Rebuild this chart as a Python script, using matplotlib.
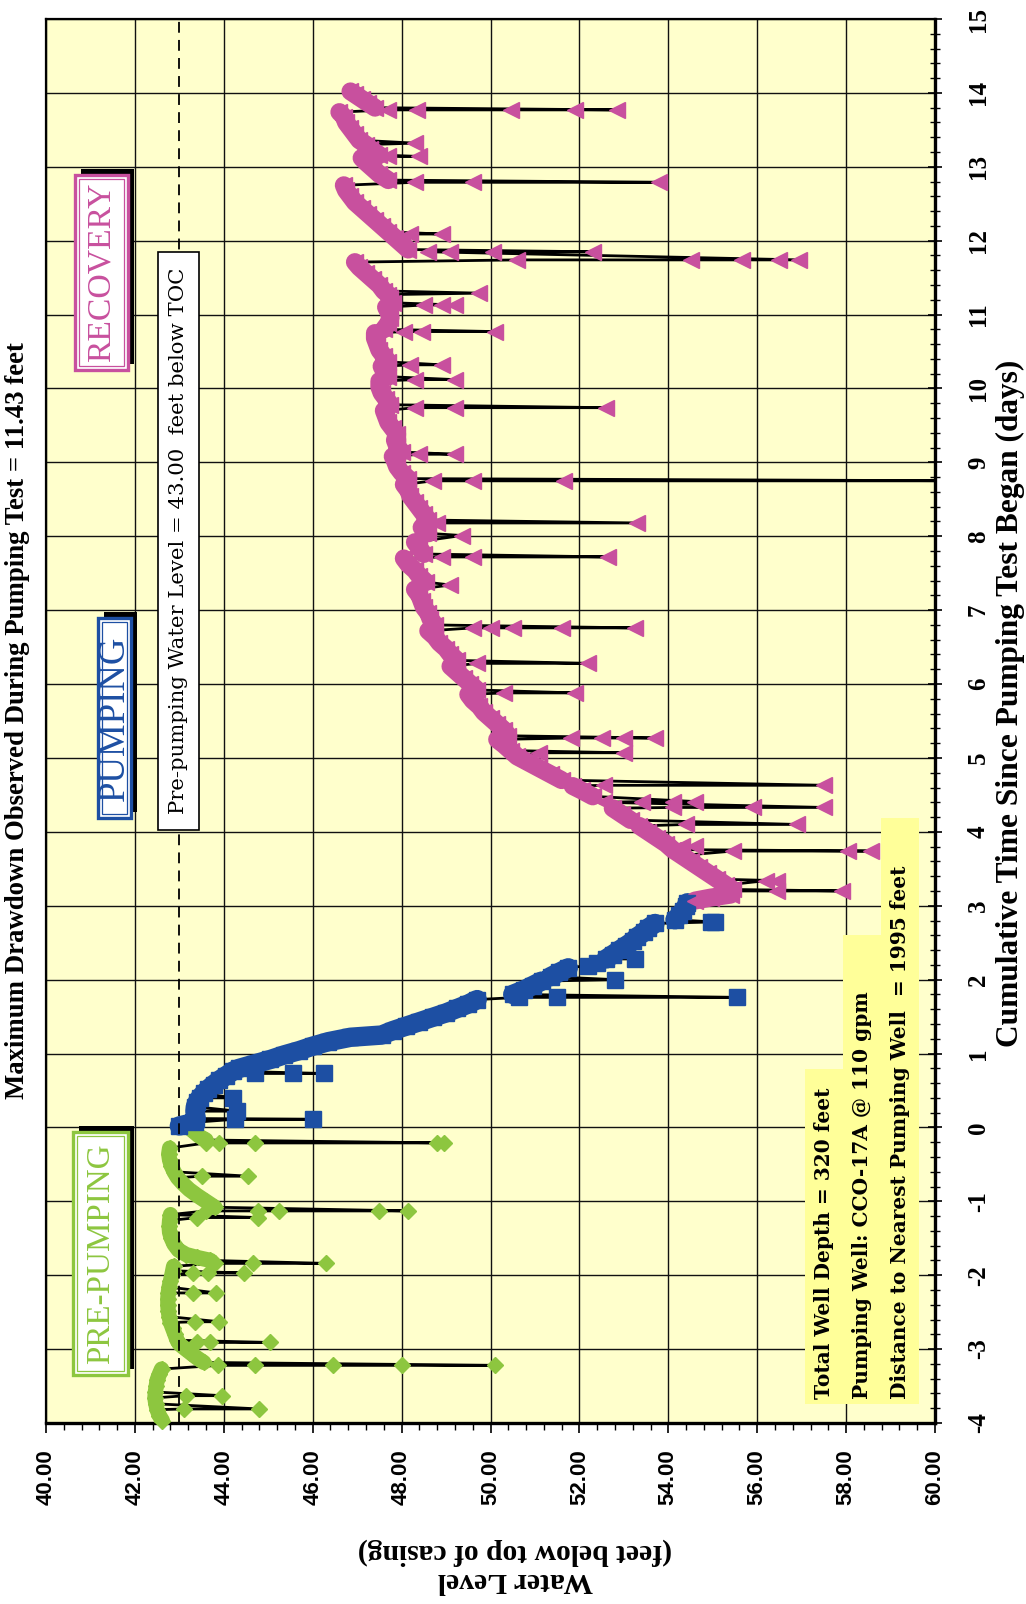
import numpy as np
import matplotlib
matplotlib.use('Agg')
import matplotlib.pyplot as plt
from matplotlib.patches import Rectangle
from matplotlib.ticker import MultipleLocator, FormatStrFormatter

plt.rcParams['axes.unicode_minus'] = False

PRE_LEVEL = 43.00      # pre-pumping water level, ft below TOC
MAX_DRAWDOWN = 11.43   # ft

# pre-pumping record: time (days), water level (ft below TOC)
pre_t = [-3.97, -3.90, -3.82, -3.74, -3.66, -3.58, -3.50, -3.42, -3.34, -3.27,
         -3.18, -3.12, -3.05, -2.98, -2.93,
         -2.88, -2.80, -2.72, -2.64, -2.56, -2.48, -2.40, -2.32, -2.24, -2.16,
         -2.08, -2.00, -1.94, -1.88,
         -1.80, -1.76, -1.72, -1.66, -1.58, -1.50, -1.42, -1.34, -1.26, -1.18,
         -1.08, -1.00, -0.92, -0.84, -0.76, -0.68, -0.60, -0.52, -0.44, -0.36,
         -0.28, -0.17, -0.12, -0.07, -0.02]
pre_lvl = [42.62, 42.55, 42.50, 42.47, 42.45, 42.46, 42.48, 42.50, 42.55, 42.60,
           43.55, 43.40, 43.25, 43.10, 43.00,
           42.95, 42.90, 42.85, 42.80, 42.77, 42.75, 42.74, 42.74, 42.75, 42.77,
           42.80, 42.83, 42.85, 42.87,
           43.70, 43.40, 43.15, 42.98, 42.88, 42.82, 42.78, 42.77, 42.78, 42.80,
           43.80, 43.60, 43.40, 43.22, 43.08, 42.96, 42.88, 42.82, 42.78, 42.76,
           42.78, 43.60, 43.45, 43.35, 43.25]
# short excursions (transducer spikes)
pre_spk_t = [-3.81, -3.63, -3.22, -2.91, -2.63, -2.24, -1.97, -1.84, -1.22, -1.13, -0.66, -0.21]
pre_spk_lvl = [[43.10, 44.80], [43.15, 43.95], [43.87, 44.70, 46.45, 48.00, 50.10],
               [43.40, 43.70, 45.05], [43.35, 43.90], [43.30, 43.83],
               [43.30, 43.65, 44.45], [43.80, 44.65, 46.30], [43.40, 44.78],
               [43.60, 44.78, 45.25, 47.50, 48.15], [43.50, 44.55],
               [43.60, 43.90, 44.70, 48.80, 48.95]]

# pumping record
pump_t = [0.02, 0.07, 0.12, 0.17, 0.22, 0.28, 0.34, 0.40, 0.46, 0.52, 0.58, 0.64, 0.70, 0.76, 0.80,
          0.86, 0.92, 0.98, 1.04, 1.10, 1.16, 1.22,
          1.25, 1.31, 1.37, 1.43, 1.49, 1.55, 1.61, 1.67, 1.73,
          1.80, 1.86, 1.92, 1.98, 2.04, 2.10, 2.16,
          2.22, 2.28, 2.34, 2.40, 2.46, 2.52, 2.58, 2.64, 2.70, 2.76,
          2.81, 2.87, 2.93, 2.99, 3.04]
pump_lvl = [43.00, 43.35, 43.38, 43.36, 43.35, 43.36, 43.40, 43.46, 43.55, 43.65, 43.77, 43.90, 44.05, 44.20, 44.35,
            44.70, 45.05, 45.35, 45.70, 46.00, 46.35, 46.85,
            47.55, 47.80, 48.10, 48.40, 48.70, 49.00, 49.25, 49.50, 49.70,
            50.50, 50.75, 50.95, 51.15, 51.35, 51.55, 51.75,
            52.40, 52.60, 52.75, 52.90, 53.05, 53.20, 53.30, 53.45, 53.55, 53.70,
            54.15, 54.25, 54.33, 54.40, 54.43]
pump_spk_t = [0.11, 0.22, 0.40, 0.73, 1.76, 2.00, 2.19, 2.28, 2.78]
pump_spk_lvl = [[44.25, 46.00], [44.30], [44.20], [44.70, 45.55, 46.26],
                [50.64, 51.50, 55.55], [52.80], [52.20], [53.25], [54.95, 55.05]]

# recovery record
rec_t = [3.07, 3.11, 3.15, 3.22, 3.28, 3.36, 3.44, 3.52, 3.60, 3.68,
         3.76, 3.84, 3.92, 4.00, 4.08, 4.16, 4.24, 4.32, 4.40, 4.48,
         4.56, 4.62, 4.70, 4.78, 4.86, 4.94, 5.02, 5.10, 5.18, 5.25,
         5.30, 5.38, 5.46, 5.54, 5.62, 5.70, 5.78, 5.86, 5.92, 6.00,
         6.08, 6.16, 6.24, 6.32, 6.40, 6.48, 6.56, 6.64, 6.72, 6.80,
         6.88, 6.96, 7.04, 7.12, 7.20, 7.28, 7.38, 7.46, 7.54, 7.62,
         7.70, 7.76, 7.84, 7.92, 8.04, 8.12, 8.22, 8.30, 8.38, 8.46,
         8.54, 8.62, 8.70, 8.78, 8.86, 8.94, 9.02, 9.08, 9.14, 9.22,
         9.30, 9.38, 9.46, 9.54, 9.62, 9.70, 9.78, 9.86, 9.94, 10.02,
         10.10, 10.16, 10.24, 10.30, 10.36, 10.44, 10.52, 10.60, 10.68, 10.75,
         10.80, 10.88, 10.96, 11.04, 11.10, 11.16, 11.22, 11.27, 11.32, 11.40,
         11.48, 11.56, 11.64, 11.71, 11.88, 11.96, 12.04, 12.12, 12.20, 12.28,
         12.36, 12.44, 12.52, 12.60, 12.68, 12.75, 12.82, 12.90, 12.98, 13.06,
         13.12, 13.16, 13.24, 13.30, 13.36, 13.44, 13.52, 13.60, 13.68, 13.74,
         13.80, 13.86, 13.92, 13.98, 14.02]
rec_lvl = [54.60, 54.95, 55.40, 55.45, 55.30, 55.10, 54.90, 54.70, 54.50, 54.30,
           54.10, 53.95, 53.75, 53.55, 53.35, 53.15, 52.95, 52.75, 52.55, 52.30,
           52.05, 51.85, 51.60, 51.35, 51.10, 50.85, 50.60, 50.45, 50.30, 50.15,
           50.40, 50.30, 50.15, 50.00, 49.85, 49.75, 49.60, 49.50, 49.70, 49.55,
           49.40, 49.25, 49.10, 49.25, 49.10, 49.00, 48.85, 48.75, 48.60, 48.75,
           48.65, 48.60, 48.50, 48.45, 48.40, 48.30, 48.55, 48.40, 48.30, 48.15,
           48.05, 48.50, 48.40, 48.30, 48.60, 48.45, 48.60, 48.50, 48.40, 48.30,
           48.20, 48.15, 48.05, 48.15, 48.00, 47.90, 47.85, 47.80, 48.00, 47.90,
           47.85, 47.90, 47.80, 47.70, 47.65, 47.60, 47.75, 47.65, 47.55, 47.50,
           47.50, 47.70, 47.60, 47.55, 47.70, 47.60, 47.50, 47.45, 47.40, 47.40,
           47.60, 47.70, 47.75, 47.70, 47.65, 47.80, 47.75, 47.70, 47.60, 47.50,
           47.35, 47.20, 47.05, 46.95, 48.15, 48.00, 47.85, 47.70, 47.55, 47.40,
           47.25, 47.10, 46.95, 46.85, 46.75, 46.70, 47.70, 47.50, 47.35, 47.20,
           47.10, 47.50, 47.30, 47.20, 47.05, 46.95, 46.85, 46.75, 46.70, 46.60,
           47.40, 47.25, 47.10, 46.95, 46.85]
rec_spk_t = [3.20, 3.34, 3.74, 3.81, 4.10, 4.33, 4.41, 4.63, 5.07, 5.27, 5.88, 6.28,
             6.76, 7.34, 7.72, 8.01, 8.18, 8.75, 9.11, 9.74, 10.12, 10.32, 10.77,
             11.13, 11.29, 11.74, 11.85, 12.09, 12.79, 13.14, 13.32, 13.77]
rec_spk_lvl = [[55.25, 56.45, 57.90], [56.20, 56.45], [55.45, 58.05, 58.55], [54.30, 54.60],
               [54.40, 56.90], [54.10, 55.90, 57.50], [53.40, 54.10, 54.60], [52.55, 57.50],
               [51.10, 53.00], [51.80, 52.50, 53.00, 53.70], [50.30, 51.90], [49.70, 52.20],
               [49.60, 50.00, 50.50, 51.60, 53.25], [49.10], [48.90, 49.60, 52.65], [49.35],
               [48.80, 53.30], [48.70, 49.60, 51.65, 61.00], [48.40, 49.20], [48.30, 49.20, 52.60],
               [48.30, 49.20], [48.20, 48.90], [48.05, 48.45, 50.10], [48.50, 48.90, 49.20],
               [49.75], [50.60, 54.50, 55.65, 56.50, 56.95], [48.60, 49.10, 50.05, 52.30],
               [48.20, 48.90], [48.30, 49.60, 53.80], [47.70, 48.40], [48.30],
               [47.70, 48.35, 50.45, 51.90, 52.85]]

GREEN = '#8DC63F'
BLUE = '#1D4FA3'
MAGENTA = '#C8509E'

W, H = 1026, 1604
fig = plt.figure(figsize=(W / 100, H / 100), dpi=100)
fig.patch.set_facecolor('white')
# page is turned: water level runs left->right, time runs bottom->top
ax = fig.add_axes([46 / W, 1 - 1423 / H, 889 / W, 1404 / H])
ax.set_facecolor('#FFFFCC')
ax.set_xlim(40, 60)
ax.set_ylim(-4, 15)


def merge(t, lvl, st, sl):
    pts = [(a, 0, b) for a, b in zip(t, lvl)]
    for s, vals in zip(st, sl):
        pts += [(s, k + 1, v) for k, v in enumerate(vals)]
    pts.sort(key=lambda p: (p[0], p[1]))
    return np.array([p[0] for p in pts]), np.array([p[2] for p in pts])


def band(t, lvl, st):
    # baseline broken wherever a spike sits between two readings
    bt, bl = [], []
    for i in range(len(t)):
        if i and any(t[i - 1] < s <= t[i] for s in st) and abs(lvl[i] - lvl[i - 1]) > 0.2:
            bt.append(np.nan)
            bl.append(np.nan)
        bt.append(t[i])
        bl.append(lvl[i])
    return np.array(bt), np.array(bl)


def draw(t, lvl, st, sl, marker, color, ms, bw):
    tt, lv = merge(t, lvl, st, sl)
    ax.plot(lv, tt, color='black', lw=2.0, zorder=3)
    bt, bl = band(t, lvl, st)
    ax.plot(bl, bt, color=color, lw=bw, solid_capstyle='round',
            solid_joinstyle='round', zorder=3.5)
    keep = lv <= 60
    ax.plot(lv[keep], tt[keep], ls='none', marker=marker, ms=ms, mfc=color,
            mec=color, zorder=4, clip_on=False)


draw(pre_t, pre_lvl, pre_spk_t, pre_spk_lvl, 'D', GREEN, 8.5, 11)
draw(pump_t, pump_lvl, pump_spk_t, pump_spk_lvl, 's', BLUE, 11, 14)
draw(rec_t, rec_lvl, rec_spk_t, rec_spk_lvl, '<', MAGENTA, 12, 13)

ax.axvline(PRE_LEVEL, color='black', lw=1.3, ls=(0, (6, 4)), zorder=5)

ax.xaxis.set_major_locator(MultipleLocator(2))
ax.xaxis.set_minor_locator(MultipleLocator(0.4))
ax.xaxis.set_major_formatter(FormatStrFormatter('%.2f'))
ax.yaxis.set_major_locator(MultipleLocator(1))
ax.yaxis.set_minor_locator(MultipleLocator(0.2))
ax.yaxis.tick_right()
ax.grid(True, which='major', color='#111111', lw=1.0)

ax.tick_params(axis='x', which='major', direction='out', length=7, width=1.2,
               labelsize=16, pad=12, labelrotation=90)
ax.tick_params(axis='x', which='minor', direction='out', length=5, width=1.0)
ax.tick_params(axis='y', which='major', direction='inout', length=10, width=1.2,
               labelsize=18, pad=18, labelrotation=90)
ax.tick_params(axis='y', which='minor', direction='inout', length=7, width=1.0)
for lb in ax.get_xticklabels():
    lb.set_family('Liberation Sans')
    lb.set_weight('bold')
for lb in ax.get_yticklabels():
    lb.set_family('Liberation Serif')
    lb.set_weight('bold')
    lb.set_va('center')

for s in ['right', 'bottom']:
    ax.spines[s].set_linewidth(2.4)
for s in ['left', 'top']:
    ax.spines[s].set_linewidth(1.6)

renderer = fig.canvas.get_renderer()


def fx(x):
    return x / W


def fy(y):
    return 1 - y / H


def fit(txt, length, along='v'):
    bb = txt.get_window_extent(renderer)
    cur = bb.height if along == 'v' else bb.width
    txt.set_fontsize(txt.get_fontsize() * length / cur)


def rect(x0, y0, x1, y1, **kw):
    r = Rectangle((fx(x0), fy(y1)), (x1 - x0) / W, (y1 - y0) / H,
                  transform=fig.transFigure, **kw)
    fig.add_artist(r)
    return r


title = fig.text(fx(18), fy(721),
                 'Maximum Drawdown Observed During Pumping Test = %.2f feet' % MAX_DRAWDOWN,
                 rotation=90, ha='center', va='center', fontsize=19,
                 family='Liberation Serif', weight='bold')
fit(title, 757)

xlab = fig.text(fx(1010), fy(703), 'Cumulative Time Since Pumping Test Began (days)',
                rotation=90, ha='center', va='center', fontsize=21,
                family='Liberation Serif', weight='bold')
fit(xlab, 685)

ylab = fig.text(fx(515), fy(1566), 'Water Level\n(feet below top of casing)',
                rotation=180, ha='center', va='center', ma='center', fontsize=17,
                family='Liberation Serif', weight='bold', linespacing=1.1)
fit(ylab, 314, along='h')


def phase_box(x0, y0, x1, y1, label, color, length):
    rect(x0 + 6, y0 - 6, x1 + 6, y1 - 6, fc='black', ec='none', zorder=6)
    rect(x0, y0, x1, y1, fc='white', ec=color, lw=2.4, zorder=7)
    rect(x0 + 4, y0 + 4, x1 - 4, y1 - 4, fc='none', ec=color, lw=0.9, zorder=7)
    t = fig.text(fx((x0 + x1) / 2), fy((y0 + y1) / 2), label, rotation=90,
                 ha='center', va='center', color=color, fontsize=20,
                 family='Liberation Serif', zorder=8)
    fit(t, length)


phase_box(73, 1132, 128, 1375, 'PRE-PUMPING', GREEN, 220)
phase_box(98, 618, 131, 818, 'PUMPING', BLUE, 165)
phase_box(75, 175, 128, 370, 'RECOVERY', MAGENTA, 180)

# pre-pumping level callout
rect(158, 252, 199, 830, fc='white', ec='black', lw=1.2, zorder=6)
note = fig.text(fx(178.5), fy(541),
                'Pre-pumping Water Level = %.2f  feet below TOC' % PRE_LEVEL,
                rotation=90, ha='center', va='center', fontsize=15,
                family='DejaVu Serif', zorder=7)
fit(note, 550)

# well information
info = [('Total Well Depth = 320 feet', 824, 1069),
        ('Pumping Well: CCO-17A @ 110 gpm', 862, 935),
        ('Distance to Nearest Pumping Well  = 1995 feet', 900, 818)]
for txt, xc, ytop in info:
    rect(xc - 19, ytop, xc + 19, 1404, fc='#FFFF99', ec='none', zorder=6)
lines = []
for txt, xc, ytop in info:
    lines.append(fig.text(fx(xc), fy(1399), txt, rotation=90, ha='center', va='bottom',
                          fontsize=14, family='DejaVu Serif', weight='bold', zorder=7))
fit(lines[-1], 533)
for t in lines[:-1]:
    t.set_fontsize(lines[-1].get_fontsize())

fig.savefig('out.png', dpi=100)
